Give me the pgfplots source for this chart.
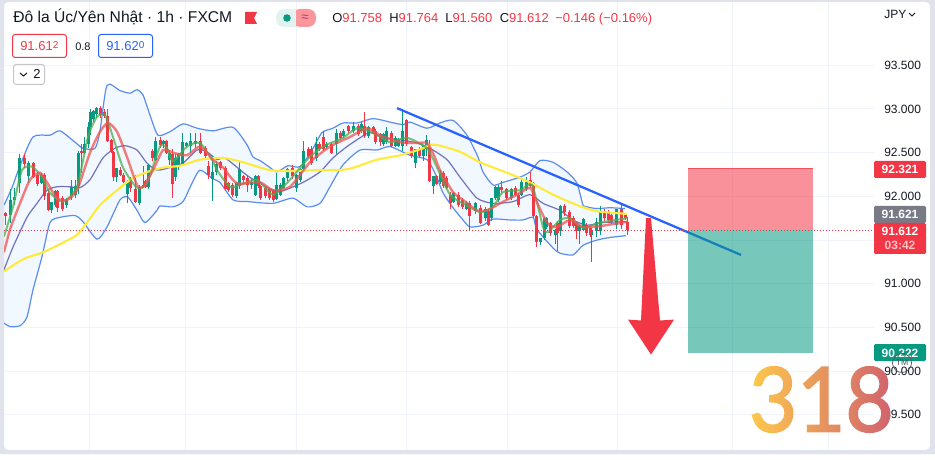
\documentclass[border=0pt]{standalone}
\usepackage{fontspec}
\setmainfont{Liberation Sans}
\newfontfamily\wmfont[FakeBold=2]{Lato}
\usepackage{pgfplots}
\usepackage{pgfplotstable}
\pgfplotsset{compat=1.18}
\usepgfplotslibrary{fillbetween}
\usetikzlibrary{fadings}

\definecolor{frame}{HTML}{E0E3EB}
\definecolor{gridc}{HTML}{F0F3FA}
\definecolor{upc}{HTML}{089981}
\definecolor{downc}{HTML}{F23645}
\definecolor{bluec}{HTML}{2962FF}
\definecolor{bandc}{HTML}{5B8DEF}
\definecolor{bandfill}{HTML}{F2F8FF}
\definecolor{midc}{HTML}{6464B4}
\definecolor{yellowc}{HTML}{FFEB3B}
\definecolor{mared}{HTML}{EF5350}
\definecolor{magreen}{HTML}{4CAF50}
\definecolor{textc}{HTML}{131722}
\definecolor{greyc}{HTML}{787B86}
\definecolor{wmleft}{HTML}{FFCB4A}
\definecolor{wmright}{HTML}{CF5F70}

% candles: x is the pixel column, the rest are prices
\pgfplotstableread{
x o h l c
10 91.79 92.08 91.69 91.96
14.7 91.96 92.10 91.90 91.99
19.3 92.15 92.48 92.04 92.44
28.7 92.23 92.40 92.15 92.38
41.7 92.15 92.27 92.14 92.25
51 91.84 91.94 91.81 91.93
55 91.90 92.07 91.88 92.06
66.7 91.90 91.98 91.87 91.96
71 92.00 92.19 91.96 92.11
75.7 92.02 92.19 91.98 92.12
78.7 92.12 92.52 92.03 92.50
84 92.50 92.68 92.48 92.60
88 92.60 92.85 92.55 92.79
90.7 92.79 93.00 92.70 92.96
93.3 92.88 92.99 92.85 92.98
96.7 92.94 93.02 92.90 93.01
116.7 92.22 92.33 92.17 92.33
127.3 92.03 92.19 91.92 92.17
139.3 91.92 92.13 91.90 92.11
143.3 92.11 92.35 92.10 92.13
148.7 92.11 92.37 92.08 92.36
155.7 92.42 92.68 92.40 92.63
163.3 92.60 92.65 92.55 92.63
169 92.42 92.53 92.36 92.50
175.7 92.22 92.48 92.18 92.44
178.3 92.34 92.50 92.30 92.48
182.7 92.37 92.72 92.35 92.62
186.7 92.58 92.62 92.55 92.61
190.7 92.58 92.72 92.50 92.63
195 92.60 92.72 92.55 92.63
212.3 92.20 92.46 91.95 92.28
216.7 92.28 92.40 92.25 92.37
236 92.00 92.16 91.98 92.15
239.3 92.12 92.40 92.08 92.31
251.7 92.13 92.20 92.08 92.17
255 92.02 92.24 92.00 92.23
276 91.97 92.27 91.96 92.13
280 92.02 92.15 92.00 92.13
283.3 92.10 92.22 92.08 92.21
287.3 92.21 92.32 92.18 92.31
296 92.10 92.26 92.05 92.25
300 92.19 92.33 92.17 92.31
303.3 92.31 92.63 92.29 92.52
316 92.44 92.68 92.40 92.60
326.7 92.56 92.62 92.54 92.60
336 92.60 92.77 92.48 92.73
343.3 92.69 92.77 92.67 92.75
353.3 92.75 92.85 92.73 92.81
361.7 92.75 92.85 92.73 92.83
368.3 92.69 92.81 92.67 92.79
383.3 92.60 92.73 92.58 92.71
386.7 92.62 92.79 92.60 92.75
395 92.58 92.69 92.56 92.67
398.3 92.58 92.67 92.56 92.65
402.7 92.58 93.00 92.52 92.75
415 92.38 92.54 92.32 92.54
423.3 92.46 92.58 92.40 92.58
426.7 92.54 92.70 92.46 92.65
433.3 92.12 92.23 92.03 92.23
440 92.16 92.30 92.14 92.27
453.3 91.94 92.05 91.92 92.04
466.7 91.86 91.95 91.84 91.92
475 91.83 91.94 91.80 91.92
485 91.75 91.88 91.72 91.85
491.7 91.75 91.98 91.72 91.98
495 91.98 92.12 91.96 92.11
498.3 91.96 92.13 91.94 92.11
511.7 91.98 92.10 91.96 92.08
521.7 92.02 92.20 92.00 92.17
526 92.08 92.22 92.06 92.17
540 91.48 91.52 91.44 91.52
544 91.52 91.76 91.50 91.75
546.7 91.65 91.76 91.63 91.75
555 91.56 91.63 91.46 91.62
560.7 91.60 91.90 91.55 91.89
579.3 91.60 91.67 91.46 91.66
583.3 91.62 91.75 91.60 91.74
591.7 91.56 91.62 91.25 91.60
596.7 91.60 91.75 91.53 91.71
600 91.60 91.89 91.56 91.83
616.7 91.67 91.85 91.63 91.85
}\upcandles

\pgfplotstableread{
x o h l c
5.3 91.81 91.82 91.67 91.78
24 92.44 92.48 92.33 92.37
33.3 92.38 92.39 92.21 92.22
37 92.24 92.27 92.12 92.14
44.5 92.25 92.27 91.96 92.00
48 92.04 92.07 91.83 91.84
57.5 92.06 92.07 91.82 91.87
62.3 91.98 92.00 91.83 91.85
81.7 92.52 92.60 92.27 92.50
100 93.01 93.03 92.90 92.93
104 92.97 93.00 92.90 92.92
107.3 92.92 93.00 92.62 92.63
111 92.64 92.66 92.50 92.51
113.3 92.51 92.52 92.18 92.22
120.7 92.30 92.34 92.23 92.25
123.3 92.25 92.27 92.15 92.17
130 92.20 92.22 92.05 92.10
135 92.08 92.25 91.92 91.93
145.3 92.18 92.19 92.10 92.11
152.7 92.52 92.54 92.40 92.44
160 92.65 92.68 92.55 92.59
166.7 92.63 92.65 92.48 92.50
172.7 92.48 92.54 91.98 92.14
200 92.63 92.72 92.48 92.50
205 92.55 92.58 92.42 92.46
208.3 92.35 92.40 92.20 92.24
220.7 92.39 92.40 92.30 92.33
225 92.33 92.35 92.08 92.08
228.3 92.15 92.17 92.05 92.07
232.7 92.13 92.15 91.99 92.02
243.3 92.23 92.25 92.15 92.19
247.7 92.21 92.23 92.05 92.13
258.3 92.23 92.25 92.10 92.12
260.7 92.12 92.13 91.96 91.98
265 92.10 92.12 91.98 92.00
269 92.08 92.10 91.96 91.98
273.3 92.06 92.08 91.93 91.96
292.3 92.33 92.36 92.20 92.23
308.3 92.54 92.56 92.44 92.46
311.7 92.54 92.58 92.36 92.38
319.3 92.60 92.62 92.52 92.54
323.3 92.68 92.75 92.52 92.54
331.7 92.60 92.62 92.48 92.50
340 92.73 92.75 92.65 92.67
348.3 92.80 92.82 92.73 92.75
358.3 92.81 92.83 92.69 92.71
364.3 92.81 92.96 92.67 92.69
373.3 92.79 92.81 92.71 92.73
375.7 92.75 92.77 92.60 92.62
380 92.71 92.73 92.58 92.62
391.7 92.73 92.75 92.56 92.58
406.7 92.87 92.88 92.58 92.60
411 92.56 92.58 92.44 92.46
419.3 92.54 92.56 92.44 92.46
429.3 92.55 92.65 92.17 92.18
436.7 92.23 92.25 92.13 92.14
443.3 92.27 92.29 92.10 92.12
446.7 92.21 92.23 92.08 92.10
450 92.01 92.05 91.85 91.92
458.3 92.02 92.05 91.88 91.90
462.7 91.96 91.98 91.86 91.88
469.3 91.92 91.95 91.60 91.77
480 91.87 91.90 91.68 91.69
488.3 91.83 91.85 91.66 91.67
501.7 92.11 92.18 92.04 92.07
506.7 92.08 92.10 91.96 91.98
515 92.10 92.12 92.00 92.02
518.3 92.02 92.04 91.88 91.90
530 92.19 92.28 92.10 92.12
533.3 92.15 92.17 91.75 91.77
536 91.77 91.79 91.42 91.48
550.7 91.69 91.71 91.55 91.58
557.3 91.69 91.72 91.37 91.58
564 91.89 91.91 91.78 91.82
569 91.82 91.84 91.64 91.66
573.3 91.75 91.77 91.64 91.66
576 91.69 91.71 91.51 91.60
586 91.67 91.69 91.55 91.58
590 91.64 91.66 91.54 91.56
604.3 91.82 91.85 91.72 91.75
608.3 91.81 91.84 91.70 91.73
611.7 91.79 91.82 91.68 91.71
621.7 91.85 91.92 91.63 91.67
625 91.79 91.81 91.73 91.75
627.3 91.71 91.76 91.56 91.61
}\downcandles

% bollinger bands and averages
\pgfplotstableread{
x y
4 91.90
12 92.10
20 92.35
33 92.68
50 92.70
60 92.75
75 92.62
83 92.55
95 92.55
100 92.75
107 93.27
120 93.21
130 93.18
137 93.22
143 93.16
150 92.93
158 92.70
170 92.74
183 92.83
197 92.78
213 92.75
233 92.79
247 92.59
253 92.45
260 92.41
270 92.33
277 92.28
288 92.35
300 92.34
312 92.53
322 92.73
333 92.78
343 92.84
357 92.84
373 92.89
390 92.85
403 92.82
410 92.85
427 92.78
440 92.84
453 92.87
467 92.70
478 92.45
483 92.28
493 92.13
503 92.16
520 92.22
530 92.28
540 92.41
553 92.39
567 92.28
577 92.15
583 91.90
587 91.88
597 91.86
610 91.87
625 91.86
}\upperband

\pgfplotstableread{
x y
4 90.55
10 90.51
20 90.52
27 90.62
33 90.93
42 91.31
50 91.70
60 91.76
75 91.78
83 91.71
97 91.51
107 91.65
120 91.96
128 91.99
137 91.84
145 91.70
157 91.84
160 91.89
173 91.88
183 91.94
192 92.15
200 92.30
213 92.20
220 92.16
233 91.96
248 91.94
273 91.92
293 91.98
307 91.88
320 91.92
330 92.11
343 92.36
360 92.53
377 92.53
390 92.57
410 92.47
427 92.42
436 92.24
443 92.04
453 91.87
463 91.73
470 91.65
483 91.67
493 91.74
510 91.73
523 91.73
533 91.76
537 91.62
553 91.41
560 91.35
573 91.33
583 91.44
597 91.50
610 91.53
626 91.55
}\lowerband

\pgfplotstableread{
x y
4 91.16
13 91.42
27 91.76
37 91.92
47 92.07
57 92.11
70 92.11
80 92.10
90 92.19
103 92.44
115 92.55
125 92.58
137 92.53
147 92.38
157 92.30
170 92.33
183 92.38
197 92.53
207 92.51
217 92.42
225 92.44
247 92.24
260 92.15
273 92.07
282 92.06
303 92.16
320 92.28
333 92.44
347 92.57
360 92.67
370 92.73
383 92.67
400 92.65
417 92.61
430 92.55
447 92.42
460 92.22
477 91.98
493 91.92
513 91.94
530 92.02
543 91.92
560 91.84
573 91.73
587 91.67
603 91.70
627 91.71
}\midband

\pgfplotstableread{
x y
4 91.14
17 91.24
27 91.30
43 91.36
63 91.47
77 91.56
87 91.70
100 91.90
117 92.07
133 92.21
150 92.29
163 92.33
180 92.35
200 92.42
223 92.44
243 92.39
270 92.30
290 92.29
317 92.30
347 92.31
377 92.42
400 92.47
423 92.55
430 92.59
440 92.58
460 92.51
480 92.39
507 92.27
530 92.16
553 92.02
577 91.90
597 91.83
627 91.80
}\yellowma

\pgfplotstableread{
x y
4 91.36
10 91.62
20 91.92
30 92.19
40 92.27
47 92.16
57 91.98
67 91.96
77 92.07
90 92.50
100 92.74
108 92.84
117 92.74
127 92.45
137 92.13
143 92.11
153 92.30
163 92.53
173 92.50
187 92.47
200 92.57
213 92.42
223 92.33
237 92.15
260 92.16
273 92.07
290 92.11
310 92.39
330 92.57
350 92.68
367 92.78
380 92.70
400 92.62
417 92.61
427 92.61
434 92.47
440 92.30
453 92.05
463 91.96
477 91.84
487 91.84
500 91.92
517 92.02
530 92.10
535 91.98
547 91.70
557 91.65
570 91.73
583 91.65
600 91.66
627 91.71
}\redma

\pgfplotstableread{
x y
4 91.54
13 91.88
22 92.30
32 92.34
42 92.22
50 92.04
63 91.94
77 92.11
88 92.68
97 92.91
105 92.93
113 92.68
123 92.33
137 92.10
147 92.15
160 92.57
167 92.55
173 92.40
187 92.57
200 92.61
213 92.40
217 92.30
230 92.11
240 92.13
257 92.19
273 92.02
290 92.19
307 92.42
323 92.57
343 92.67
357 92.78
373 92.73
390 92.62
407 92.67
427 92.55
437 92.33
450 92.02
463 91.92
480 91.82
493 91.88
503 92.05
520 92.07
532 92.13
543 91.65
548 91.59
560 91.73
570 91.75
583 91.64
600 91.70
627 91.75
}\greenma

\begin{document}%
\begin{tikzfadingfrompicture}[name=wmfade]
  \node[text=transparent!0,inner sep=0pt,xscale=.93] {\fontsize{67}{67}\selectfont\wmfont 318};
\end{tikzfadingfrompicture}%
\begin{tikzpicture}
% page ring only: fill between and the grid lie on layers under the main one
\fill[frame,even odd rule] (0,0) rectangle (701.25pt,340.5pt)
  [rounded corners=3pt] (3pt,3pt) rectangle (697.5pt,339pt);

\begin{axis}[
    at={(3pt,3pt)}, anchor=south west,
    scale only axis,
    width=652.5pt, height=336pt,
    xmin=4, xmax=874,
    ymin=89.098, ymax=94.224,
    axis line style={draw=none},
    major tick length=0pt,
    xtick={89,185,296,406,507,617,732,828},
    xticklabels={},
    ytick={89.5,90,90.5,91,92,92.5,93,93.5},
    extra y ticks={91.5},
    extra y tick labels={},
    grid=major,
    grid style={gridc,line width=.75pt},
    yticklabel pos=right,
    yticklabel style={font=\fontsize{9}{9}\selectfont,text=textc,anchor=west,inner sep=0pt,xshift=7.5pt,
      /pgf/number format/fixed,/pgf/number format/fixed zerofill,/pgf/number format/precision=3,
      /pgf/number format/assume math mode=true},
]

% band
\addplot[draw=none,name path=upper,forget plot] table[x=x,y=y] {\upperband};
\addplot[draw=none,name path=lower,forget plot] table[x=x,y=y] {\lowerband};
\addplot[fill=bandfill,draw=none] fill between[of=upper and lower];
\addplot[bandc,line width=.9pt,smooth,tension=.4] table[x=x,y=y] {\upperband};
\addplot[bandc,line width=.9pt,smooth,tension=.4] table[x=x,y=y] {\lowerband};
\addplot[midc,opacity=.9,line width=.9pt,smooth,tension=.4] table[x=x,y=y] {\midband};

% wicks
\addplot[draw=none,no markers,error bars/.cd,y dir=plus,y explicit,error mark=none,
    error bar style={draw=upc,line width=.75pt}]
  table[x=x,y=l,y error plus expr=\thisrow{h}-\thisrow{l}] {\upcandles};
\addplot[draw=none,no markers,error bars/.cd,y dir=plus,y explicit,error mark=none,
    error bar style={draw=downc,line width=.75pt}]
  table[x=x,y=l,y error plus expr=\thisrow{h}-\thisrow{l}] {\downcandles};
% bodies
\addplot[draw=none,no markers,error bars/.cd,y dir=plus,y explicit,error mark=none,
    error bar style={draw=upc,line width=2.25pt}]
  table[x=x,y=o,y error plus expr=\thisrow{c}-\thisrow{o}] {\upcandles};
\addplot[draw=none,no markers,error bars/.cd,y dir=plus,y explicit,error mark=none,
    error bar style={draw=downc,line width=2.25pt}]
  table[x=x,y=c,y error plus expr=\thisrow{o}-\thisrow{c}] {\downcandles};

% averages
\addplot[yellowc,line width=1.6pt,smooth,tension=.4] table[x=x,y=y] {\yellowma};
\addplot[magreen,opacity=.75,line width=1.5pt,smooth,tension=.4] table[x=x,y=y] {\greenma};
\addplot[mared,opacity=.75,line width=1.8pt,smooth,tension=.4] table[x=x,y=y] {\redma};

% trend line, then the position box over it
\addplot[bluec,line width=1.7pt] coordinates {(397,93.01) (741,91.33)};
\addplot[draw=none,fill=downc,fill opacity=.55] coordinates {(688,92.321) (813,92.321) (813,91.612) (688,91.612)} -- cycle;
\addplot[draw=none,fill=upc,fill opacity=.55] coordinates {(688,91.612) (813,91.612) (813,90.21) (688,90.21)} -- cycle;
\addplot[downc,line width=.75pt,opacity=.7] coordinates {(688,92.321) (813,92.321)};
\addplot[downc,line width=.6pt,dash pattern=on .75pt off 1.5pt] coordinates {(4,91.612) (874,91.612)};

% arrow
\addplot[draw=none,fill=downc] coordinates {(646,91.75) (641,90.58) (628,90.59) (651,90.19) (674,90.59) (660,90.58) (651,91.75)} -- cycle;
\end{axis}

\begin{scope}[shift={(0,340.5pt)},x=.75pt,y=-.75pt,every node/.style={inner sep=0pt,text=textc}]
% header
\node[anchor=base west,font=\fontsize{11.73}{12}\selectfont] at (13,23) {Đô la Úc/Yên Nhật · 1h · FXCM};
\fill[downc] (245,12) -- (257,12) -- (254,18) -- (257,24) -- (245,24) -- cycle;
\fill[upc!12,rounded corners=6pt] (276,9) rectangle (300,27);
\fill[downc!30!pink,rounded corners=6pt] (292,9) rectangle (316,27);
\fill[upc!12] (290,9) rectangle (296,27);
\fill[upc] (287,18) circle (3.8);
\node[text=magenta!70!black,font=\fontsize{10}{10}\selectfont] at (305,18) {≈};
\node[anchor=base west,font=\fontsize{9.75}{10}\selectfont] at (332,23) {O\textcolor{downc}{91.758}};
\node[anchor=base west,font=\fontsize{9.75}{10}\selectfont] at (389,23) {H\textcolor{downc}{91.764}};
\node[anchor=base west,font=\fontsize{9.75}{10}\selectfont] at (445,23) {L\textcolor{downc}{91.560}};
\node[anchor=base west,font=\fontsize{9.75}{10}\selectfont] at (499.5,23) {C\textcolor{downc}{91.612}};
\node[anchor=base west,font=\fontsize{9.75}{10}\selectfont,text=downc] at (555,23) {−0.146 (−0.16\%)};
% boxes
\draw[downc,line width=.75pt,rounded corners=2pt] (12.5,34.5) rectangle (66.5,57.5);
\node[anchor=base west,text=downc,font=\fontsize{9.75}{10}\selectfont] at (20,51) {91.61\raisebox{2pt}{\fontsize{7.5}{8}\selectfont 2}};
\node[anchor=base west,font=\fontsize{8.25}{9}\selectfont] at (75,50.5) {0.8};
\draw[bluec,line width=.75pt,rounded corners=2pt] (98.5,34.5) rectangle (152.5,57.5);
\node[anchor=base west,text=bluec,font=\fontsize{9.75}{10}\selectfont] at (106,51) {91.62\raisebox{2pt}{\fontsize{7.5}{8}\selectfont 0}};
\draw[gray!45,line width=.75pt,rounded corners=2pt] (13.5,64.5) rectangle (44.5,84.5);
\draw[textc,line width=.75pt] (20,73) -- (23.5,76) -- (27,73);
\node[anchor=base west,font=\fontsize{9.75}{10}\selectfont] at (33,79) {2};
% scale corner
\node[anchor=base west,font=\fontsize{9}{9}\selectfont] at (884,19) {JPY};
\draw[textc,line width=.6pt] (909,13) -- (912,16) -- (915,13);
% price tags
\fill[downc,rounded corners=1pt] (874,161) rectangle (926,178);
\node[anchor=base,text=white,font=\bfseries\fontsize{9}{9}\selectfont] at (900,174) {92.321};
\fill[greyc,rounded corners=1pt] (874,206) rectangle (926,223);
\node[anchor=base,text=white,font=\bfseries\fontsize{9}{9}\selectfont] at (900,219) {91.621};
\fill[downc,rounded corners=1pt] (874,223) rectangle (926,254);
\node[anchor=base,text=white,font=\bfseries\fontsize{9}{9}\selectfont] at (900,236) {91.612};
\node[anchor=base,text=white!70!downc,font=\bfseries\fontsize{9}{9}\selectfont] at (900,250) {03:42};
\fill[upc,rounded corners=1pt] (874,344) rectangle (926,361);
\node[anchor=base,text=white,font=\bfseries\fontsize{9}{9}\selectfont] at (900,357) {90.222};
% watermark
\draw[textc!70,line width=.6pt] (902,363) circle (9.5);
\node[text=textc!75,font=\fontsize{6.5}{7}\selectfont] at (902,363) {TM};
\end{scope}
\shade[path fading=wmfade,fit fading=false,fading transform={shift={(616pt,40.9pt)}},
  left color=wmleft,right color=wmright]
  (560pt,4pt) rectangle (672pt,85pt);
\end{tikzpicture}
\end{document}
